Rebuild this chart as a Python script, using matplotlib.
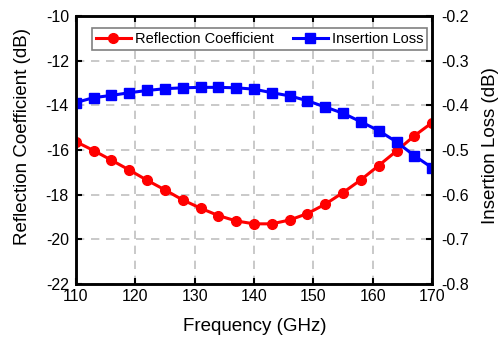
import numpy as np
import matplotlib.pyplot as plt

plt.rcParams['font.family'] = ['Liberation Sans', 'DejaVu Sans']
plt.rcParams['axes.unicode_minus'] = False

# 数据
freq = np.arange(110, 171, 3)
reflection = [-15.63, -16.03, -16.46, -16.90, -17.36, -17.79, -18.24, -18.61,
              -18.94, -19.18, -19.31, -19.31, -19.14, -18.85, -18.43, -17.91,
              -17.34, -16.70, -16.05, -15.37, -14.78]
insertion = [-0.394, -0.383, -0.378, -0.372, -0.367, -0.363, -0.361, -0.360,
             -0.360, -0.361, -0.364, -0.372, -0.379, -0.390, -0.404, -0.418,
             -0.437, -0.457, -0.482, -0.513, -0.540]
x_ticks = [110, 120, 130, 140, 150, 160, 170]
left_ticks = [-10, -12, -14, -16, -18, -20, -22]
right_ticks = [-0.2, -0.3, -0.4, -0.5, -0.6, -0.7, -0.8]

fig = plt.figure(figsize=(4.99, 3.38), dpi=100)
ax = fig.add_axes([0.152, 0.160, 0.714, 0.793])
ax2 = ax.twinx()

l1, = ax.plot(freq, reflection, '-o', color='red', lw=2.2, ms=7,
              label='Reflection Coefficient')
l2, = ax2.plot(freq, insertion, '-s', color='blue', lw=2.2, ms=6.5,
               label='Insertion Loss')

ax.set_xlim(110, 170)
ax.set_ylim(-22, -10)
ax2.set_ylim(-0.8, -0.2)
ax.set_xticks(x_ticks)
ax.set_yticks(left_ticks)
ax2.set_yticks(right_ticks)
ax2.set_yticklabels([f'{v:g}' for v in right_ticks])

ax.grid(True, color='#c0c0c0', linestyle=(0, (5, 4)), linewidth=1.2)
ax.set_axisbelow(True)

# 刻度朝内，四边都有
ax.tick_params(direction='in', length=4, width=1.5, labelsize=11.5, top=True)
ax.tick_params(axis='x', pad=4)
ax.tick_params(axis='y', pad=5)
ax2.tick_params(direction='in', length=4, width=1.5, labelsize=11.5, pad=6.5)
for a in (ax, ax2):
    for s in a.spines.values():
        s.set_linewidth(1.8)

ax.set_xlabel('Frequency (GHz)', fontsize=13.5)
ax.set_ylabel('Reflection Coefficient (dB)', fontsize=13.5)
ax2.set_ylabel('Insertion Loss (dB)', fontsize=13.5)
ax.xaxis.set_label_coords(0.503, -0.127)
ax.yaxis.set_label_coords(-0.125, 0.55)
ax2.yaxis.set_label_coords(1.14, 0.518)

leg = ax2.legend(handles=[l1, l2], loc='upper right', ncol=2, fontsize=10.5,
                 fancybox=False, edgecolor='gray', framealpha=1,
                 bbox_to_anchor=(0.995, 0.964), borderpad=0.25,
                 handlelength=2.4, handletextpad=0.3, columnspacing=1.3,
                 borderaxespad=0.2)
leg.get_frame().set_linewidth(1.2)

fig.savefig('out.png', dpi=100)
